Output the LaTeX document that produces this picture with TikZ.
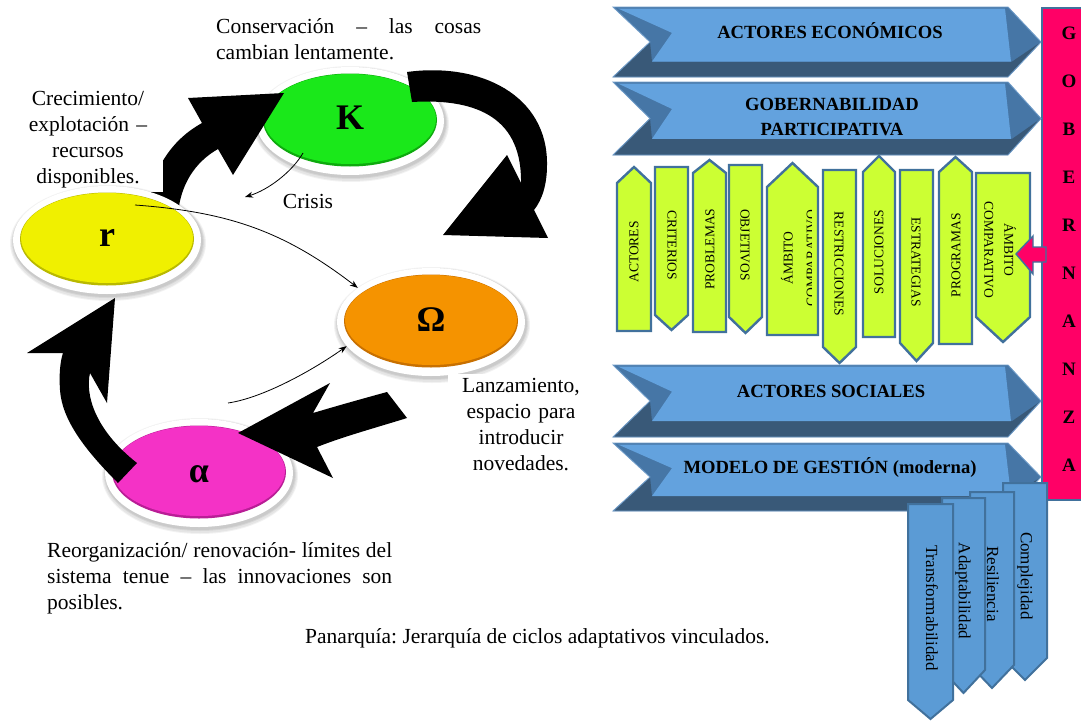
\documentclass[tikz,border=0pt]{standalone}
\usepackage{fontspec}
\setmainfont{Liberation Serif}
\usetikzlibrary{arrows.meta,calc,shapes.geometric}
\hyphenpenalty=10000
\exhyphenpenalty=10000
\frenchspacing

% phase bubbles
\definecolor{kgreen}{RGB}{26,232,26}
\definecolor{kgreendk}{RGB}{14,170,14}
\definecolor{ryellow}{RGB}{240,240,0}
\definecolor{ryellowdk}{RGB}{185,185,0}
\definecolor{oorange}{RGB}{245,147,0}
\definecolor{oorangedk}{RGB}{200,112,0}
\definecolor{amag}{RGB}{244,50,198}
\definecolor{amagdk}{RGB}{185,30,150}
% governance panel
\definecolor{chevface}{RGB}{99,162,222}
\definecolor{chevbevel}{RGB}{70,118,166}
\definecolor{chevdark}{RGB}{57,89,120}
\definecolor{chevline}{RGB}{110,155,200}
\definecolor{lime}{RGB}{204,255,51}
\definecolor{steel}{RGB}{65,113,156}
\definecolor{tabblue}{RGB}{91,155,213}
\definecolor{gobpink}{RGB}{255,0,102}

\tikzset{
  body/.style={font=\fontsize{21.5}{26}\selectfont, inner sep=0pt},
  rim/.style={ellipse, fill=white, minimum width=188pt, minimum height=108pt, inner sep=0pt},
  letter/.style={font=\bfseries\fontsize{36}{36}\selectfont, inner sep=0pt},
  thinarrow/.style={-{Stealth[length=8pt,width=6pt]}, line width=0.8pt},
  chevtext/.style={font=\bfseries\fontsize{18.6}{22}\selectfont, inner sep=0pt, anchor=base},
  limetab/.style={fill=lime, draw=steel, line width=2.4pt, line join=miter},
  bluetab/.style={fill=tabblue, draw=steel, line width=2pt, line join=miter},
  tabtext/.style={font=\fontsize{13.5}{16}\selectfont, inner sep=0pt},
  bluetext/.style={font=\fontsize{17}{20}\selectfont, inner sep=0pt, rotate=-90},
  gobletter/.style={font=\bfseries\fontsize{19}{19}\selectfont, inner sep=0pt},
}

% bubble: name, x, y, colour, letter, letter y
\newcommand\phasebubble[6]{%
  \fill[black, opacity=0.05] (#2+1,#3+3) ellipse [x radius=98pt, y radius=58pt];
  \fill[black, opacity=0.05] (#2+1,#3+3) ellipse [x radius=97pt, y radius=57pt];
  \fill[black, opacity=0.06] (#2+1,#3+2) ellipse [x radius=96pt, y radius=56pt];
  \fill[black, opacity=0.06] (#2+1,#3+2) ellipse [x radius=95pt, y radius=55pt];
  \node[rim] (#1-rim) at (#2,#3) {};
  \fill[#4dk] (#2,#3-1) ellipse [x radius=87pt, y radius=46.5pt];
  \fill[#4] (#2,#3-2) ellipse [x radius=86pt, y radius=45pt];
  \node[letter] (#1) at (#2,#6) {#5};
}

% bevelled chevron band between two heights
\newcommand\bandarrow[2]{%
  \pgfmathsetmacro\chevT{#1}\pgfmathsetmacro\chevB{#2}%
  \pgfmathsetmacro\chevM{(#1+#2)/2}%
  \pgfmathsetmacro\chevF{#1+0.78*(#2-#1)}%
  \pgfmathsetmacro\chevN{#1+0.37*(#2-#1)}%
  \fill[chevbevel] (613,\chevT) -- (1008,\chevT) -- (1041,\chevM) -- (1008,\chevB) -- (613,\chevB) -- (650,\chevM) -- cycle;
  \fill[chevdark] (613,\chevB) -- (650,\chevM) -- (652,\chevF) -- (1012,\chevF) -- (1041,\chevM) -- (1008,\chevB) -- cycle;
  \fill[chevface] (618,\chevT+1.5) -- (1005,\chevT+1.5) -- (1011,\chevF) -- (652,\chevF) -- (672,\chevN) -- cycle;
  \draw[chevline, line width=0.9pt] (613,\chevT) -- (1008,\chevT) -- (1041,\chevM) -- (1008,\chevB) -- (613,\chevB) -- (650,\chevM) -- cycle;
}

% pentagon tab: style, left, right, flat end, shoulder, tip
\newcommand\tabshape[6]{%
  \draw[#1] (#2,#4) -- (#3,#4) -- (#3,#5) -- ({(#2+#3)/2},#6) -- (#2,#5) -- cycle;}

\begin{document}
\begin{tikzpicture}[x=1pt,y=-1pt]
\useasboundingbox (0,0) rectangle (1081,720);
\fill[white] (0,0) rectangle (1081,720);

% ---------------- governance panel ----------------
\draw[fill=gobpink, draw=steel, line width=1.6pt] (1042,8) rectangle (1092,500);
\foreach \ch [count=\i from 0] in {G,O,B,E,R,N,A,N,Z,A}
  \node[gobletter] (gob-\i) at (1069,33+48*\i) {\ch};

\bandarrow{7}{77}
\node[chevtext] (econ) at (830,38) {ACTORES ECONÓMICOS};
\bandarrow{82}{155}
\node[chevtext] (gob1) at (832,110) {GOBERNABILIDAD};
\node[chevtext] (gob2) at (832,135) {PARTICIPATIVA};
\bandarrow{365}{437}
\node[chevtext] (soc) at (831,397) {ACTORES SOCIALES};
\bandarrow{443}{511}
\node[chevtext] (model) at (830,473) {MODELO DE GESTIÓN (moderna)};

% lime tabs
\tabshape{limetab}{617}{651}{331}{183}{167}
\node[tabtext, rotate=90] (t-actores) at (634,252) {ACTORES};
\tabshape{limetab}{655}{688}{167}{315}{330}
\node[tabtext, rotate=-90] (t-criterios) at (672,245) {CRITERIOS};
\tabshape{limetab}{693}{726}{332}{173}{160}
\node[tabtext, rotate=90] (t-problemas) at (710,249) {PROBLEMAS};
\tabshape{limetab}{729}{762}{165}{317}{333}
\node[tabtext, rotate=-90] (t-objetivos) at (745,245) {OBJETIVOS};
\tabshape{limetab}{767}{818}{335}{187}{163}
\begin{scope}
  \clip (767,335) -- (811,335) -- (811,170) -- (767,170) -- cycle;
  \node[tabtext, rotate=90, align=center, font=\fontsize{13.5}{23}\selectfont] (t-ambito1) at (798.5,258) {ÁMBITO\\COMPARATIVO};
\end{scope}
\tabshape{limetab}{823}{856}{170}{347}{363}
\node[tabtext, rotate=-90] (t-restr) at (839,264) {RESTRICCIONES};
\tabshape{limetab}{863}{895}{337}{172}{156}
\node[tabtext, rotate=90] (t-soluc) at (879,252) {SOLUCIONES};
\tabshape{limetab}{900}{933}{170}{343}{361}
\node[tabtext, rotate=-90] (t-estrat) at (916,262) {ESTRATEGIAS};
\tabshape{limetab}{939}{972}{344}{172}{157}
\node[tabtext, rotate=90] (t-progr) at (956,255) {PROGRAMAS};
\tabshape{limetab}{976}{1030}{173}{317}{342}
\node[tabtext, rotate=-90, align=center, font=\fontsize{13.5}{20}\selectfont] (t-ambito2) at (1000,250) {ÁMBITO\\COMPARATIVO};

% pink pointer from the governance bar
\draw[fill=gobpink, draw=steel, line width=1.4pt, line join=miter]
  (1016,254) -- (1033,236) -- (1033,247) -- (1046,247) -- (1046,262) -- (1033,262) -- (1033,274) -- cycle;

% blue property tabs
\tabshape{bluetab}{1003}{1047}{483}{658}{680}
\node[bluetext] (p-compl) at (1025,576) {Complejidad};
\tabshape{bluetab}{970}{1014}{492}{665}{688}
\node[bluetext] (p-resil) at (993,584) {Resiliencia};
\tabshape{bluetab}{942}{985}{498}{670}{693}
\node[bluetext] (p-adapt) at (963,591) {Adaptabilidad};
\tabshape{bluetab}{908}{953}{504}{700}{719}
\node[bluetext] (p-transf) at (932,608) {Transformabilidad};

% ---------------- adaptive cycle ----------------
\phasebubble{K}{350}{121}{kgreen}{K}{118}
\phasebubble{Om}{431}{322}{oorange}{Ω}{320}
\phasebubble{A}{199}{473}{amag}{α}{474}

% exploitation: r -> K
\fill[black] (145,215) .. controls (152,165) and (175,138) .. (202,123)
  -- (188,98) -- (284,93) -- (233,175) -- (218,149)
  .. controls (195,162) and (180,185) .. (178,215) -- cycle;
% conservation -> release: K -> Omega
\fill[black] (407,72) .. controls (480,62) and (548,95) .. (547,165)
  .. controls (547,185) and (542,200) .. (534,210) -- (548,238) -- (443,235)
  -- (507,155) -- (521,183) .. controls (522,120) and (480,98) .. (412,102) -- cycle;
% release -> reorganisation: Omega -> alpha
\fill[black] (387,392) -- (407,418) .. controls (375,428) and (345,436) .. (317,447)
  -- (333,478) -- (238,433) -- (330,383) -- (313,413)
  .. controls (340,405) and (365,398) .. (387,392) -- cycle;
% reorganisation -> growth: alpha -> r
\fill[black] (118,483) .. controls (85,450) and (62,420) .. (60,390)
  .. controls (59,375) and (60,362) .. (63,353) -- (27,353) -- (115,298)
  -- (107,403) -- (90,373) .. controls (85,395) and (95,430) .. (137,463) -- cycle;

\node[body, fill=white, text width=150pt, align=center, anchor=base, inner ysep=4pt] (grow) at (88,105)
  {Crecimiento/\\explotación --\\recursos\\disponibles.};

\phasebubble{r}{107}{240}{ryellow}{r}{238}

% thin links
\coordinate (ktail) at (303,153);
\coordinate (crisishead) at (245,197);
\coordinate (rtail) at (135,205);
\coordinate (atail) at (228,403);
\draw[thinarrow] (ktail) .. controls (292,172) and (268,190) .. (crisishead);
\draw[thinarrow] (rtail) .. controls (230,212) and (285,232) .. (Om-rim.155);
\draw[thinarrow] (atail) .. controls (262,398) and (310,372) .. (Om-rim.196);

% captions
\node[body, anchor=base west, text width=265pt, align=justify] (cons) at (216,33)
  {Conservación -- las cosas\linebreak cambian lentamente.};
\node[body, anchor=base] (crisis) at (308,208) {Crisis};
\node[body, fill=white, text width=146pt, align=center, anchor=base, inner ysep=4pt] (launch) at (521,392)
  {Lanzamiento,\\espacio para\\introducir\\novedades.};
\node[body, anchor=base west, text width=345pt, align=justify] (reorg) at (47,557)
  {Reorganización/ renovación- límites del\linebreak sistema tenue -- las innovaciones son\linebreak posibles.};
\node[body, anchor=base west] (title) at (305,643) {Panarquía: Jerarquía de ciclos adaptativos vinculados.};
\end{tikzpicture}
\end{document}
